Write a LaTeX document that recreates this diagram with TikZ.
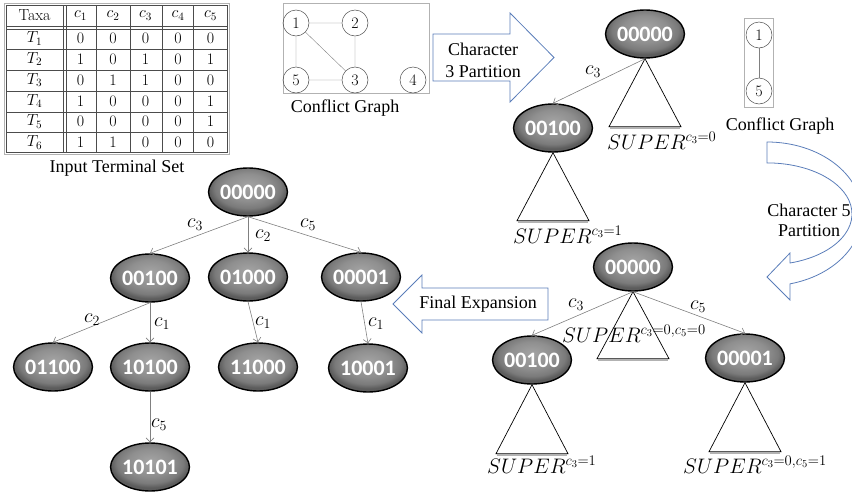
\RequirePackage{fix-cm}
\documentclass[tikz,border=0pt]{standalone}
\usepackage{fontspec}
\newfontfamily\timesfont{Liberation Serif}
\newfontfamily\labelfont{Carlito}
\usetikzlibrary{arrows.meta,shapes.geometric}
\definecolor{arrowblue}{RGB}{90,125,185}
\pgfdeclareradialshading{ovalshade}{\pgfpoint{0bp}{7bp}}{rgb(0bp)=(0.64,0.64,0.64); rgb(14bp)=(0.56,0.56,0.56); rgb(21bp)=(0.48,0.48,0.48); rgb(25bp)=(0.36,0.36,0.36); rgb(50bp)=(0.36,0.36,0.36)}
\tikzset{
	oval/.style = {ellipse, draw = black, line width = 1.4pt, shading = ovalshade, minimum width = 75pt, minimum height = 48pt, inner sep = 0pt, text = white, font = \labelfont\bfseries\fontsize{22}{22}\selectfont},
	branch/.style = {draw = gray, line width = 0.6pt, -{Straight Barb[length=4pt, width=8pt]}},
	clabel/.style = {font = \fontsize{20}{20}\selectfont, inner sep = 1pt},
	caption/.style = {font = \timesfont\fontsize{18}{22}\selectfont, align = center, inner sep = 0pt},
	vertex/.style = {circle, draw = black!70, line width = 0.5pt, minimum size = 26pt, inner sep = 0pt, font = \fontsize{16}{16}\selectfont},
	cell/.style = {font = \fontsize{16}{16}\selectfont, inner sep = 0pt},
	blockarrow/.style = {draw = arrowblue, line width = 0.8pt},
	supertext/.style = {font = \fontsize{21}{21}\selectfont, anchor = base west, inner sep = 0pt}
}
\newcommand{\subtree}[3]{
	\draw[black, line width = 0.7pt] (#1.south) -- ++(-#2,#3) -- ++(2*#2,0) -- cycle;
	\draw[gray!60, line width = 1.8pt] (#1.south) ++(-#2+1,#3+1.4) -- ++(2*#2-2,0);
}
\begin{document}
\begin{tikzpicture}[x = 1pt, y = -1pt]

		\clip (0,0) rectangle (852,493);

		\draw[gray!60, line width = 0.6pt] (4,3) rectangle (229,154);
		\draw[black!70, line width = 0.5pt] (6,5) rectangle (227,152);
		\draw[black!70, line width = 0.5pt] (6,26) -- (227,26) (6,29) -- (227,29);
		\draw[black!70, line width = 0.5pt] (63,5) -- (63,152) (66,5) -- (66,152);
		\foreach \y in {49,70,91,112,132}
			\draw[black!70, line width = 0.5pt] (6,\y) -- (227,\y);
		\foreach \x in {96,130,162,193}
			\draw[black!70, line width = 0.5pt] (\x,5) -- (\x,152);
		\node[cell] (taxa) at (34.5,15.5) {Taxa};
		\foreach \j in {1,...,5}
			\node[cell] (h\j) at ({48+32.5*\j},15.5) {$c_{\j}$};
		\foreach \vals [count = \i] in {{0,0,0,0,0},{1,0,1,0,1},{0,1,1,0,0},{1,0,0,0,1},{0,0,0,0,1},{1,1,0,0,0}}{
			\node[cell] (t\i) at (34.5,{38.5+20.8*(\i-1)}) {$T_{\i}$};
			\foreach \v [count = \j] in \vals
				\node[cell] (v\i\j) at ({48+32.5*\j},{38.5+20.8*(\i-1)}) {\v};
		}
		\node[caption] (inputcap) at (117,168) {Input Terminal Set};

		\draw[gray!60, line width = 0.6pt] (283,3) rectangle (429,93);
		\node[vertex] (g1) at (296,23) {1};
		\node[vertex] (g2) at (355,23) {2};
		\node[vertex] (g5) at (296,80) {5};
		\node[vertex] (g3) at (355,80) {3};
		\node[vertex] (g4) at (413,80) {4};
		\draw[gray] (g1) -- (g2) (g1) -- (g5) (g1) -- (g3) (g2) -- (g3) (g5) -- (g3);
		\node[caption] (conflcap_1) at (345,108) {Conflict Graph};

		\draw[blockarrow] (433,34) -- (510,34) -- (510,13) -- (554,57.5) -- (510,102) -- (510,81) -- (433,81) -- cycle;
		\node[caption] (part_1) at (483,60) {Character\\3 Partition};

		\node[oval] (tA) at (645,34) {00000};
		\node[oval] (tB) at (553,128) {00100};
		\subtree{tA}{36}{68}
		\subtree{tB}{36}{68}
		\draw[branch] (tA.south) -- (tB.north);
		\node[clabel] (tc3) at (593,72) {$c_3$};
		\node[supertext] (tsup_1) at (607,149) {$SUPER^{c_3=0}$};
		\node[supertext] (tsup_2) at (513,243) {$SUPER^{c_3=1}$};

		\draw[gray!60, line width = 0.6pt] (744,18) rectangle (773,107);
		\node[vertex] (k1) at (759,35) {1};
		\node[vertex] (k5) at (759,91) {5};
		\draw[gray] (k1) -- (k5);
		\node[caption] (conflcap_2) at (780,126) {Conflict Graph};

		\draw[blockarrow] (767,142) arc[start angle = -90, end angle = 76, x radius = 95, y radius = 72] -- (790,300) -- (767,277) -- (790,253) -- (790,263) arc[start angle = 74.3, end angle = -90, x radius = 85, y radius = 51] -- cycle;
		\node[caption, font = \timesfont\fontsize{18}{20}\selectfont] (part_2) at (809,220) {Character 5\\Partition};

		\node[oval] (rA) at (633,267) {00000};
		\node[oval] (rB) at (532,360) {00100};
		\node[oval] (rC) at (745,358) {00001};
		\subtree{rA}{36}{67}
		\subtree{rB}{36}{69}
		\subtree{rC}{36}{69}
		\draw[branch] (rA.south) -- (rB.north);
		\draw[branch] (rA.south) -- (rC.north);
		\node[clabel] (rc3) at (576,305) {$c_3$};
		\node[clabel] (rc5) at (698,307) {$c_5$};
		\node[supertext] (rsup_1) at (562,342) {$SUPER^{c_3=0,c_5=0}$};
		\node[supertext] (rsup_2) at (487,473) {$SUPER^{c_3=1}$};
		\node[supertext] (rsup_3) at (683,473) {$SUPER^{c_3=0,c_5=1}$};

		\draw[blockarrow] (548,288) -- (422,288) -- (422,275) -- (393,304) -- (422,333) -- (422,320) -- (548,320) -- cycle;
		\node[caption] (finalcap) at (478,304) {Final Expansion};

		\node[oval] (lA) at (248,192) {00000};
		\node[oval] (lB) at (150,278) {00100};
		\node[oval] (lC) at (248,277) {01000};
		\node[oval] (lD) at (361,277) {00001};
		\node[oval] (lE) at (53,367) {01100};
		\node[oval] (lF) at (150,367) {10100};
		\node[oval] (lG) at (258,367) {11000};
		\node[oval] (lH) at (368,368) {10001};
		\node[oval] (lI) at (150,467) {10101};
		\draw[branch] (lA.south) -- (lB.north);
		\draw[branch] (lA.south) -- (lC.north);
		\draw[branch] (lA.south) -- (lD.north);
		\draw[branch] (lB.south) -- (lE.north);
		\draw[branch] (lB.south) -- (lF.north);
		\draw[branch] (lC.south) -- (lG.north);
		\draw[branch] (lD.south) -- (lH.north);
		\draw[branch] (lF.south) -- (lI.north);
		\node[clabel] (lc3) at (195,225) {$c_3$};
		\node[clabel] (lc2) at (263,236) {$c_2$};
		\node[clabel] (lc5) at (308,225) {$c_5$};
		\node[clabel] (lc2b) at (92,320) {$c_2$};
		\node[clabel] (lc1) at (162,324) {$c_1$};
		\node[clabel] (lc1b) at (263,323) {$c_1$};
		\node[clabel] (lc1c) at (376,324) {$c_1$};
		\node[clabel] (lc5b) at (159,425) {$c_5$};
	\end{tikzpicture}
\end{document}
